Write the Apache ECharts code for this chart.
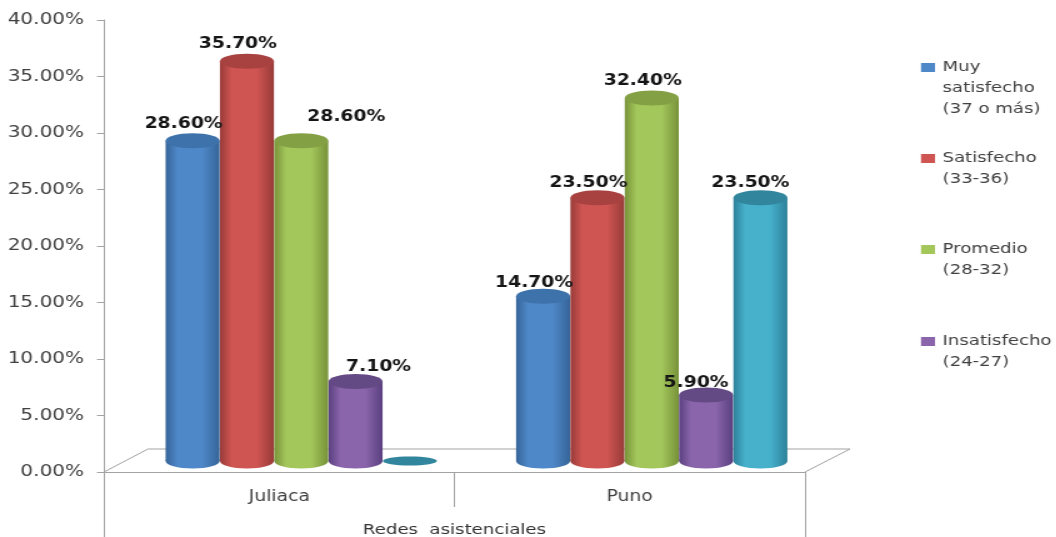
<!DOCTYPE html>
<html lang="es">
<head>
<meta charset="utf-8">
<title>Satisfacción por redes asistenciales</title>
<script src="https://cdn.jsdelivr.net/npm/echarts@6/dist/echarts.min.js"></script>
<style>
  html, body { margin: 0; padding: 0; background: #fff; overflow: hidden; }
  /* The chart is laid out narrow and widened as a whole, so its lettering is wide too. */
  #chart { width: 844.8px; height: 537px; transform: scaleX(1.25); transform-origin: 0 0; }
</style>
</head>
<body>
<div id="chart"></div>
<script>
const categories = ['Juliaca', 'Puno'];
const axisTitle = 'Redes  asistenciales';
const yTicksMax = 40;
const yTicksStep = 5;

const muySatisfecho = [28.6, 14.7];
const satisfecho = [35.7, 23.5];
const promedio = [28.6, 32.4];
const insatisfecho = [7.1, 5.9];
const muyInsatisfecho = [0, 23.5];

const STRETCH = 1.25;
const px = x => x / STRETCH;

const seriesDefs = [
  { name: 'Muy\nsatisfecho\n(37 o más)', values: muySatisfecho, edge: '#356498', mid: '#4f88c8', cap: '#3d72aa' },
  { name: 'Satisfecho\n(33-36)', values: satisfecho, edge: '#983b39', mid: '#cf5552', cap: '#a84240' },
  { name: 'Promedio\n(28-32)', values: promedio, edge: '#779239', mid: '#a4c75c', cap: '#84a044' },
  { name: 'Insatisfecho\n(24-27)', values: insatisfecho, edge: '#5a4080', mid: '#8a65ab', cap: '#644a84' },
  { name: 'Muy insatisfecho', values: muyInsatisfecho, edge: '#2e8199', mid: '#47b1cc', cap: '#31859c' }
];

// Hand-placed data labels, as [series, category] -> shift from the default spot.
const labelShift = {
  '2:0': [54, -7],
  '3:0': [32, 3],
  '0:1': [0, 4],
  '1:1': [0, 2],
  '3:1': [-1, 5],
  '4:1': [-1, 2]
};

const BAR_PITCH = 0.155;
const BAR_WIDTH = px(54);
const CAP_RY = 7.5;

function cylinder(seriesIndex, def) {
  return function (params, api) {
    const cat = api.value(0);
    const value = api.value(1);
    const band = api.size([1, 0])[0];
    const centre = api.coord([cat, value]);
    const base = api.coord([cat, 0]);
    const cx = centre[0] + (seriesIndex - 2) * band * BAR_PITCH;
    const rx = BAR_WIDTH / 2;
    const children = [];

    if (value === 0) {
      children.push({
        type: 'ellipse',
        shape: { cx: cx, cy: base[1], rx: rx, ry: 4.5 },
        style: { fill: def.cap }
      });
      return { type: 'group', children: children };
    }

    const fill = {
      type: 'linear', x: 0, y: 0, x2: 1, y2: 0,
      colorStops: [
        { offset: 0, color: def.edge },
        { offset: 0.22, color: def.mid },
        { offset: 0.68, color: def.mid },
        { offset: 1, color: def.edge }
      ]
    };
    children.push(
      { type: 'ellipse', shape: { cx: cx, cy: base[1], rx: rx, ry: CAP_RY }, style: { fill: fill } },
      { type: 'rect', shape: { x: cx - rx, y: centre[1], width: rx * 2, height: base[1] - centre[1] }, style: { fill: fill } },
      { type: 'ellipse', shape: { cx: cx, cy: centre[1], rx: rx, ry: CAP_RY }, style: { fill: def.cap } }
    );

    const shift = labelShift[seriesIndex + ':' + cat] || [0, 0];
    children.push({
      type: 'text',
      z2: 100,
      style: {
        x: cx - px(9) + px(shift[0]),
        y: centre[1] - 17 + shift[1],
        text: value.toFixed(2) + '%',
        fill: '#151515',
        font: 'bold 15px "DejaVu Sans"',
        align: 'center',
        verticalAlign: 'middle'
      }
    });
    return { type: 'group', children: children };
  };
}

// Legend swatch sitting on the first text line of a block of the given height.
function swatch(height) {
  const w = px(14);
  return 'path://M0,0h0.01v0.01h-0.01z M' + w + ',' + height + 'h-0.01v-0.01h0.01z ' +
    'M0,6H' + w + 'V15H0Z';
}

const legendLayout = [
  { top: 57, height: 63 },
  { top: 148, height: 42 },
  { top: 239, height: 42 },
  { top: 331, height: 42 }
];

const AXIS_GREY = '#a3a3a3';
const textGrey = '#404040';

const chart = echarts.init(document.getElementById('chart'), null, { renderer: 'canvas' });
chart.setOption({
  backgroundColor: '#ffffff',
  animation: false,
  legend: legendLayout.map((l, i) => ({
    data: [seriesDefs[i].name],
    left: px(921),
    top: l.top,
    orient: 'vertical',
    padding: 0,
    itemWidth: px(14),
    itemHeight: l.height,
    itemGap: 0,
    icon: swatch(l.height),
    itemStyle: { color: seriesDefs[i].mid },
    selectedMode: false,
    textStyle: { fontFamily: 'DejaVu Sans', fontSize: 14.5, lineHeight: 21, color: textGrey, padding: [0, 0, 0, 1] }
  })),
  grid: [
    { left: px(104), width: px(701), top: 20, height: 452, outerBoundsMode: 'none' },
    { left: px(126), width: px(701), top: 13, height: 448, outerBoundsMode: 'none' }
  ],
  xAxis: [
    {
      type: 'category',
      gridIndex: 0,
      data: categories,
      axisLine: { show: true, lineStyle: { color: AXIS_GREY, width: 1 } },
      axisTick: { show: true, length: 35, lineStyle: { color: AXIS_GREY, width: 1 } },
      axisLabel: { color: textGrey, fontFamily: 'DejaVu Sans', fontSize: 15, margin: 18 },
      name: axisTitle,
      nameLocation: 'middle',
      nameGap: 51,
      nameTextStyle: { color: '#333333', fontFamily: 'DejaVu Sans', fontSize: 14.5 }
    },
    { type: 'category', gridIndex: 1, data: categories, show: false }
  ],
  yAxis: [
    {
      type: 'value',
      gridIndex: 0,
      min: 0,
      max: yTicksMax,
      interval: yTicksStep,
      splitLine: { show: false },
      axisLine: { show: true, lineStyle: { color: AXIS_GREY, width: 1 } },
      axisTick: { show: true, length: px(7), lineStyle: { color: AXIS_GREY, width: 1 } },
      axisLabel: {
        color: textGrey, fontFamily: 'DejaVu Sans', fontSize: 16, margin: px(20),
        formatter: v => v.toFixed(2) + '%'
      }
    },
    { type: 'value', gridIndex: 1, min: 0, max: yTicksMax, interval: yTicksStep, show: false }
  ],
  // Floor of the plot and the outer walls of the category band.
  graphic: {
    elements: [
      {
        type: 'polyline', z: 0, silent: true,
        shape: { points: [[px(104), 472], [px(148), 449], [px(850), 449], [px(805), 472]] },
        style: { stroke: AXIS_GREY, lineWidth: 1, fill: null }
      },
      {
        type: 'line', z: 0, silent: true,
        shape: { x1: 83.5, y1: 472, x2: 83.5, y2: 537 },
        style: { stroke: AXIS_GREY, lineWidth: 1 }
      },
      {
        type: 'line', z: 0, silent: true,
        shape: { x1: 644.5, y1: 472, x2: 644.5, y2: 537 },
        style: { stroke: AXIS_GREY, lineWidth: 1 }
      }
    ]
  },
  series: seriesDefs.map((def, i) => ({
    type: 'custom',
    name: def.name,
    xAxisIndex: 1,
    yAxisIndex: 1,
    clip: false,
    itemStyle: { color: def.mid },
    encode: { x: 0, y: 1 },
    data: def.values.map((v, c) => [c, v]),
    renderItem: cylinder(i, def)
  }))
});
</script>
</body>
</html>
